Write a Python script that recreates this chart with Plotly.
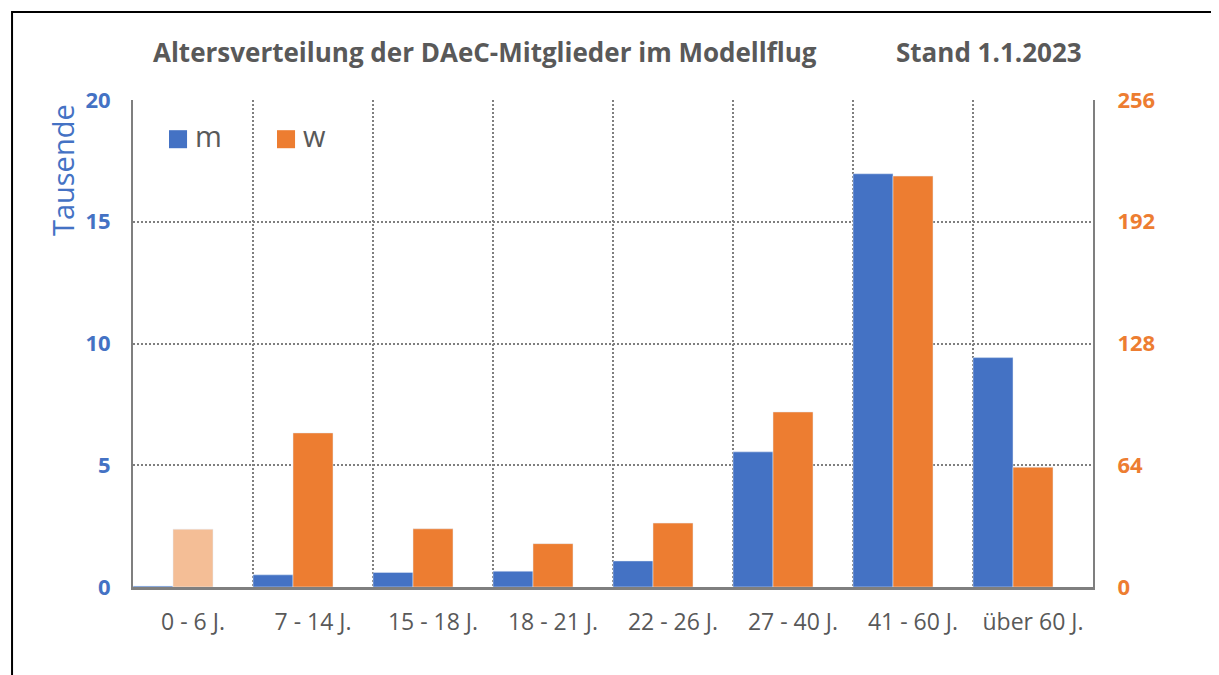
import plotly.graph_objects as go

categories = ["0 - 6 J.", "7 - 14 J.", "15 - 18 J.", "18 - 21 J.",
              "22 - 26 J.", "27 - 40 J.", "41 - 60 J.", "über 60 J."]
m_values = [0.04, 0.5, 0.6, 0.65, 1.07, 5.55, 16.97, 9.42]   # Tausende (left axis)
w_values = [30.4, 81, 30.6, 22.8, 33.6, 92, 216, 63]        # right axis
left_ticks = [0, 5, 10, 15, 20]
right_ticks = [0, 64, 128, 192, 256]

BLUE = "#4472C4"
ORANGE = "#ED7D31"
PEACH = "#F4BE96"
GREY = "#595959"
FONT = "Open Sans"

w_colors = [PEACH] + [ORANGE] * (len(categories) - 1)

fig = go.Figure()
fig.add_trace(go.Bar(x=categories, y=m_values, name="m", marker_color=BLUE,
                     width=1 / 3, offset=-0.5, yaxis="y"))
fig.add_trace(go.Bar(x=categories, y=w_values, name="w", marker_color=w_colors,
                     width=1 / 3, offset=-1 / 6, yaxis="y2"))

grid = dict(showgrid=True, gridcolor="#7f7f7f", griddash="2px,2px", gridwidth=1.5)

fig.update_layout(
    width=1211, height=667,
    margin=dict(l=125, r=126, t=92, b=88),
    plot_bgcolor="white", paper_bgcolor="white",
    showlegend=False,
    barmode="overlay",
    font=dict(family=FONT, color=GREY),
    xaxis=dict(
        type="category", tickson="boundaries", ticks="", **grid,
        showline=True, linecolor="#7f7f7f", linewidth=3,
        tickfont=dict(size=23, color=GREY), ticklabelstandoff=12,
    ),
    yaxis=dict(
        range=[0, 20], tickvals=left_ticks, **grid,
        showline=True, linecolor="#7f7f7f", linewidth=2,
        tickfont=dict(size=22, color=BLUE, family=FONT, weight="bold"),
        ticklabelstandoff=16, zeroline=False,
    ),
    yaxis2=dict(
        range=[0, 256], tickvals=right_ticks, overlaying="y", side="right",
        showgrid=False, showline=True, linecolor="#7f7f7f", linewidth=2,
        tickfont=dict(size=22, color=ORANGE, family=FONT, weight="bold"),
        ticklabelstandoff=18, zeroline=False,
    ),
)

# outer frame of the chart
fig.add_shape(type="rect", xref="paper", yref="paper",
              x0=-0.126, x1=1.14, y0=-0.2, y1=1.1807,
              line=dict(color="black", width=2), layer="below")

fig.add_annotation(text="<b>Altersverteilung der DAeC-Mitglieder im Modellflug</b>",
                   xref="paper", yref="paper", x=0.3667, y=1.0986,
                   xanchor="center", yanchor="middle", showarrow=False,
                   font=dict(size=26, color=GREY, family=FONT))
fig.add_annotation(text="<b>Stand 1.1.2023</b>",
                   xref="paper", yref="paper", x=0.892, y=1.0986,
                   xanchor="center", yanchor="middle", showarrow=False,
                   font=dict(size=26, color=GREY, family=FONT))
fig.add_annotation(text="Tausende", textangle=-90,
                   xref="paper", yref="paper", x=-0.074, y=0.856,
                   xanchor="center", yanchor="middle", showarrow=False,
                   font=dict(size=29, color=BLUE, family=FONT))

# legend drawn by hand to get the large square keys
for label, color, x0 in [("m", BLUE, 0.0375), ("w", ORANGE, 0.150)]:
    fig.add_shape(type="rect", xref="paper", yref="paper",
                  x0=x0, x1=x0 + 0.0188, y0=0.901, y1=0.938,
                  fillcolor=color, line=dict(width=0))
    fig.add_annotation(text=label, xref="paper", yref="paper",
                       x=x0 + 0.025, y=0.928, xanchor="left", yanchor="middle",
                       showarrow=False,
                       font=dict(size=29, color=GREY, family=FONT))

fig.write_html("out.html")
